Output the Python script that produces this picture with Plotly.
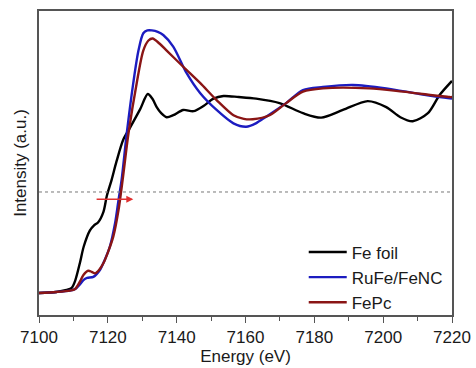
import plotly.graph_objects as go

# Fe K-edge XANES spectra (normalized absorption)
fe_foil_energy = [7100, 7105, 7108, 7109.5, 7110.5, 7111.9, 7113, 7114.8, 7116, 7117.2,
                  7118.7, 7119.7, 7121.1, 7122.5, 7124.5, 7126.5, 7129.4, 7131.6, 7133,
                  7134.2, 7135.5, 7137.1, 7139, 7141.9, 7144.9, 7147.8, 7150.7, 7153.6,
                  7158, 7163.1, 7169.9, 7176.7, 7182, 7188.3, 7195.5, 7200.9, 7205,
                  7208.6, 7213, 7216.4, 7220]
fe_foil_mu = [0, 0.005, 0.015, 0.025, 0.06, 0.15, 0.23, 0.31, 0.335, 0.35,
              0.40, 0.48, 0.56, 0.65, 0.76, 0.82, 0.91, 0.985, 0.96,
              0.92, 0.89, 0.87, 0.88, 0.906, 0.90, 0.926, 0.962, 0.975,
              0.97, 0.962, 0.94, 0.89, 0.868, 0.906, 0.95, 0.92, 0.87,
              0.85, 0.89, 0.98, 1.05]

rufe_energy = [7100, 7105, 7109, 7110.5, 7112, 7112.9, 7114, 7115.8, 7117.7, 7119,
               7120.6, 7122.1, 7123.1, 7124, 7125.5, 7127.4, 7128.9, 7130.3, 7131.5,
               7132.8, 7134.5, 7136.1, 7139, 7142.9, 7146.8, 7151.6, 7156.5, 7160.2,
               7163, 7166, 7171.8, 7176.7, 7182.5, 7191.2, 7200.9, 7210.6, 7219.3, 7220]
rufe_mu = [0, 0.005, 0.012, 0.02, 0.045, 0.064, 0.075, 0.08, 0.114, 0.16,
           0.23, 0.345, 0.46, 0.56, 0.79, 1.04, 1.20, 1.286, 1.30,
           1.30, 1.293, 1.277, 1.22, 1.088, 0.99, 0.906, 0.84, 0.823,
           0.84, 0.873, 0.94, 1.005, 1.02, 1.03, 1.013, 0.985, 0.964, 0.963]

fepc_energy = [7100, 7105, 7109, 7110.5, 7112, 7112.9, 7114.3, 7115.3, 7116.3, 7117.5,
               7118.7, 7120, 7121.6, 7123.1, 7124.3, 7126, 7128.4, 7130.3, 7131.8,
               7133, 7135, 7137.1, 7141.9, 7146.8, 7151.6, 7156.5, 7159.5, 7162.1,
               7167, 7171.8, 7176.7, 7182.5, 7195.9, 7205.7, 7219.3, 7220]
fepc_mu = [0, 0.005, 0.012, 0.02, 0.06, 0.089, 0.11, 0.105, 0.097, 0.115,
           0.147, 0.2, 0.28, 0.41, 0.56, 0.79, 1.04, 1.20, 1.25,
           1.26, 1.235, 1.20, 1.12, 1.04, 0.955, 0.88, 0.862, 0.86,
           0.88, 0.94, 0.997, 1.013, 1.013, 0.997, 0.97, 0.97]

series_names = ["Fe foil", "RuFe/FeNC", "FePc"]
series_colors = ["#000000", "#1c1cc0", "#8a1515"]

half_edge_level = 0.5            # dotted reference line
shift_arrow_energy = [7116.3, 7127.4]
shift_arrow_level = 0.464

x_range = [7100, 7220]
y_range = [-0.109, 1.396]
x_ticks = [7100, 7120, 7140, 7160, 7180, 7200, 7220]

font_family = "Liberation Sans, Arial, sans-serif"

fig = go.Figure()
for name, color, e, mu in zip(series_names, series_colors,
                              [fe_foil_energy, rufe_energy, fepc_energy],
                              [fe_foil_mu, rufe_mu, fepc_mu]):
    fig.add_trace(go.Scatter(x=e, y=mu, mode="lines", name=name,
                             line=dict(color=color, width=2.4, shape="spline", smoothing=0.8)))

fig.add_shape(type="line", xref="paper", x0=0, x1=1, yref="y",
              y0=half_edge_level, y1=half_edge_level,
              line=dict(color="#777777", width=1, dash="dot"))

fig.add_annotation(x=shift_arrow_energy[1], y=shift_arrow_level,
                   ax=shift_arrow_energy[0], ay=shift_arrow_level,
                   xref="x", yref="y", axref="x", ayref="y",
                   text="", showarrow=True, arrowhead=2, arrowsize=1,
                   arrowwidth=1.4, arrowcolor="#e03030")

axis_line = dict(showline=True, linecolor="#555555", linewidth=1.5, mirror=True,
                 showgrid=False, zeroline=False, automargin=False)

fig.update_layout(
    width=476, height=368,
    margin=dict(l=39, r=24, t=11, b=53),
    paper_bgcolor="white", plot_bgcolor="white",
    font=dict(family=font_family, size=17, color="#1a1a1a"),
    showlegend=True,
    legend=dict(x=0.641, y=0.265, xanchor="left", yanchor="top",
                bgcolor="rgba(0,0,0,0)", font=dict(size=17),
                itemwidth=38, tracegroupgap=0),
    xaxis=dict(range=x_range, tickvals=x_ticks, ticks="outside", ticklen=6,
               tickwidth=1.2, tickcolor="#555555",
               minor=dict(dtick=10, ticks="outside", ticklen=4, tickcolor="#555555"),
               title=dict(text="Energy (eV)", standoff=4, font=dict(size=17)),
               tickfont=dict(size=17), **axis_line),
    yaxis=dict(range=y_range, showticklabels=False, ticks="",
               title=dict(text="Intensity (a.u.)", standoff=6, font=dict(size=17)),
               **axis_line),
)

fig.write_html("out.html")
